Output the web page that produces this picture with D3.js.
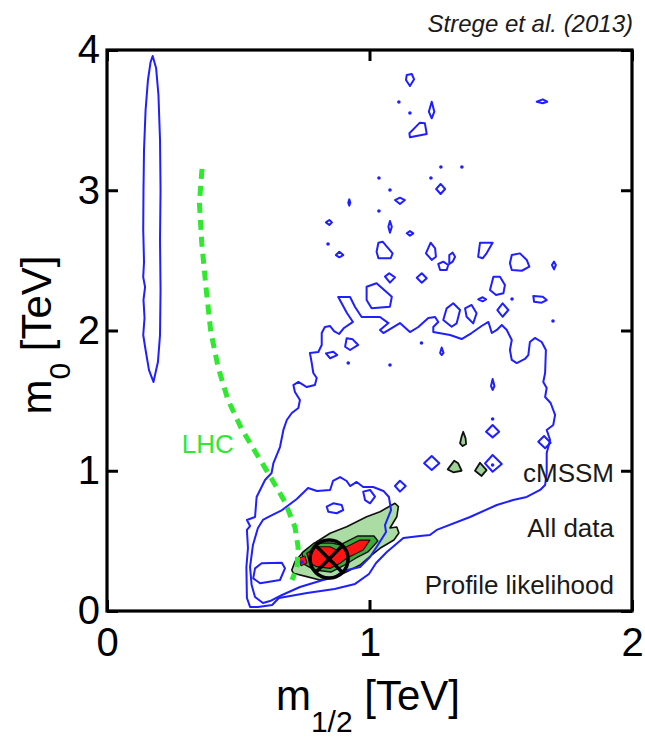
<!DOCTYPE html>
<html>
<head>
<meta charset="utf-8">
<script src="https://cdn.jsdelivr.net/npm/d3@7"></script>
<style>
  html, body { margin: 0; padding: 0; background: #fff; }
  svg { display: block; font-family: "Liberation Sans", Arial, Helvetica, sans-serif; }
</style>
</head>
<body>
<svg id="chart" width="645" height="737"></svg>
<script>
// ---- axis ticks (TeV) ----
const xTicks = [0, 1, 2];
const yTicks = [0, 1, 2, 3, 4];

// ---- contours in (m1/2, m0) [TeV] ----
// narrow blue island at low m1/2
const ellipseContour = [[0.174,3.957],[0.187,3.872],[0.196,3.679],[0.202,3.358],[0.204,3.002],[0.202,2.645],[0.204,2.289],[0.202,1.968],[0.194,1.775],[0.177,1.633],[0.160,1.718],[0.147,1.861],[0.138,1.968],[0.143,2.089],[0.139,2.218],[0.145,2.310],[0.138,2.381],[0.141,2.488],[0.138,2.716],[0.139,3.002],[0.141,3.287],[0.147,3.572],[0.156,3.786],[0.166,3.914]];

// large outer blue contour
const outerContour = [[0.545,0.029],[0.533,0.093],[0.531,0.314],[0.537,0.449],[0.533,0.578],[0.545,0.606],[0.533,0.649],[0.564,0.670],[0.570,0.813],[0.602,0.934],[0.627,0.984],[0.634,1.055],[0.659,1.169],[0.672,1.291],[0.685,1.362],[0.704,1.412],[0.729,1.447],[0.735,1.504],[0.716,1.561],[0.710,1.611],[0.729,1.633],[0.761,1.597],[0.792,1.611],[0.799,1.661],[0.786,1.697],[0.780,1.768],[0.773,1.840],[0.805,1.847],[0.818,1.897],[0.818,1.982],[0.830,2.025],[0.850,2.032],[0.865,1.996],[0.884,1.975],[0.903,2.018],[0.937,2.061],[0.914,2.125],[0.881,2.239],[0.926,2.239],[0.945,2.168],[0.970,2.096],[1.040,2.096],[1.072,2.053],[1.040,2.004],[1.053,1.982],[1.116,2.053],[1.154,1.989],[1.186,2.025],[1.224,2.089],[1.250,2.096],[1.262,2.061],[1.243,2.025],[1.243,1.989],[1.307,1.968],[1.351,1.939],[1.389,1.982],[1.427,2.032],[1.453,2.061],[1.466,1.982],[1.485,2.004],[1.504,2.039],[1.523,2.004],[1.542,1.932],[1.535,1.861],[1.542,1.790],[1.561,1.768],[1.592,1.797],[1.605,1.825],[1.611,1.918],[1.630,1.947],[1.656,1.918],[1.672,1.861],[1.669,1.697],[1.662,1.633],[1.675,1.590],[1.669,1.526],[1.690,1.483],[1.707,1.398],[1.700,1.326],[1.675,1.291],[1.688,1.219],[1.681,1.169],[1.675,1.127],[1.675,0.984],[1.669,0.898],[1.650,0.863],[1.599,0.813],[1.547,0.791],[1.485,0.756],[1.383,0.670],[1.256,0.578],[1.230,0.542],[1.192,0.535],[1.129,0.520],[1.066,0.421],[1.025,0.342],[0.998,0.264],[0.945,0.193],[0.867,0.157],[0.762,0.128],[0.655,0.093],[0.629,0.043],[0.575,0.029]];

// inner blue contour around the best-fit region
const innerContour = [[0.594,0.057],[0.564,0.100],[0.551,0.185],[0.545,0.314],[0.556,0.471],[0.575,0.592],[0.594,0.649],[0.621,0.677],[0.667,0.720],[0.723,0.799],[0.766,0.877],[0.800,0.856],[0.850,0.863],[0.861,0.927],[0.888,0.955],[0.913,0.927],[0.926,0.891],[0.951,0.920],[0.976,0.884],[1.014,0.884],[1.053,0.856],[1.074,0.813],[1.082,0.720],[1.059,0.613],[1.063,0.563],[1.032,0.471],[1.002,0.385],[0.964,0.314],[0.899,0.285],[0.869,0.242],[0.823,0.221],[0.735,0.171],[0.667,0.114],[0.621,0.071]];

// small closed blue islands
const blueIslands = [
  [[1.142,3.822],[1.161,3.829],[1.170,3.791],[1.154,3.743],[1.139,3.786]],
  [[1.237,3.631],[1.247,3.560],[1.237,3.513],[1.226,3.560]],
  [[1.192,3.482],[1.211,3.477],[1.218,3.401],[1.154,3.378],[1.152,3.406]],
  [[1.637,3.631],[1.660,3.648],[1.677,3.631],[1.660,3.620]],
  [[1.271,3.045],[1.288,3.009],[1.271,2.973],[1.254,3.009]],
  [[1.097,2.930],[1.116,2.947],[1.135,2.930],[1.116,2.902]],
  [[0.923,2.935],[0.927,2.911],[0.923,2.890],[0.919,2.911]],
  [[0.834,2.771],[0.847,2.788],[0.857,2.771],[0.847,2.752]],
  [[1.078,2.781],[1.085,2.740],[1.078,2.697],[1.072,2.740]],
  [[1.142,2.693],[1.154,2.709],[1.167,2.693],[1.154,2.676]],
  [[0.872,2.538],[0.885,2.562],[0.900,2.538],[0.885,2.522]],
  [[1.034,2.626],[1.050,2.633],[1.088,2.550],[1.081,2.515],[1.034,2.515],[1.027,2.562]],
  [[1.233,2.626],[1.250,2.586],[1.253,2.526],[1.237,2.503],[1.215,2.550]],
  [[1.262,2.474],[1.281,2.491],[1.300,2.467],[1.294,2.431],[1.269,2.431]],
  [[1.304,2.538],[1.317,2.555],[1.326,2.526],[1.317,2.491],[1.304,2.474]],
  [[1.421,2.626],[1.469,2.626],[1.446,2.550],[1.431,2.515],[1.414,2.526]],
  [[1.542,2.538],[1.573,2.550],[1.599,2.503],[1.609,2.455],[1.580,2.426],[1.542,2.431],[1.535,2.479]],
  [[1.703,2.491],[1.710,2.467],[1.703,2.436],[1.695,2.467]],
  [[1.059,2.384],[1.075,2.408],[1.097,2.379],[1.078,2.341]],
  [[1.180,2.376],[1.199,2.408],[1.218,2.372],[1.199,2.341]],
  [[0.989,2.312],[1.027,2.337],[1.085,2.241],[1.078,2.170],[1.008,2.158],[0.989,2.217]],
  [[1.472,2.384],[1.497,2.384],[1.516,2.324],[1.510,2.265],[1.482,2.253],[1.459,2.289]],
  [[1.414,2.222],[1.431,2.237],[1.444,2.222],[1.431,2.208]],
  [[1.624,2.246],[1.660,2.241],[1.675,2.217],[1.656,2.198],[1.627,2.205]],
  [[1.294,2.158],[1.319,2.194],[1.345,2.146],[1.332,2.051],[1.313,2.027],[1.281,2.075]],
  [[1.364,2.158],[1.389,2.182],[1.408,2.123],[1.395,2.051],[1.370,2.098]],
  [[1.507,2.194],[1.529,2.146],[1.507,2.098],[1.487,2.146]],
  [[0.913,1.944],[0.936,1.937],[0.957,1.897],[0.926,1.861],[0.907,1.884]],
  [[0.834,1.837],[0.862,1.849],[0.877,1.825],[0.850,1.802]],
  [[1.275,1.879],[1.282,1.840],[1.275,1.825],[1.269,1.840]],
  [[1.469,1.654],[1.476,1.604],[1.469,1.576],[1.463,1.604]],
  [[1.469,1.326],[1.494,1.278],[1.469,1.238],[1.444,1.278]],
  [[1.469,1.112],[1.504,1.048],[1.469,0.993],[1.440,1.053]],
  [[1.237,1.105],[1.266,1.053],[1.237,1.005],[1.208,1.053]],
  [[1.665,1.248],[1.690,1.200],[1.669,1.160],[1.643,1.207]],
  [[1.116,0.929],[1.138,0.891],[1.116,0.851],[1.097,0.891]],
  [[0.976,0.851],[1.002,0.863],[1.021,0.815],[1.002,0.768],[0.983,0.791]],
  [[0.837,0.744],[0.862,0.768],[0.894,0.756],[0.900,0.720],[0.875,0.697],[0.843,0.708]],
  [[0.564,0.304],[0.589,0.340],[0.666,0.344],[0.678,0.304],[0.659,0.221],[0.583,0.198],[0.557,0.233]]
];

// single-point blue specks
const blueDots = [[1.112,3.629],[1.154,3.551],[1.272,3.166],[1.352,3.166],[1.036,3.087],[1.234,3.087],[1.078,3.002],[1.036,2.852],[0.842,2.617],[1.699,2.068],[1.198,1.911],[0.919,1.768],[1.078,1.754],[1.469,1.369],[1.469,1.041],[1.543,2.225],[0.743,0.349]];

// profile likelihood regions
const greenRegion = [[0.704,0.292],[0.716,0.352],[0.748,0.423],[0.799,0.494],[0.850,0.554],[0.913,0.601],[0.989,0.672],[1.040,0.708],[1.097,0.768],[1.110,0.744],[1.104,0.672],[1.078,0.592],[1.104,0.599],[1.112,0.556],[1.093,0.506],[1.040,0.447],[1.008,0.399],[0.964,0.328],[0.913,0.280],[0.875,0.245],[0.811,0.221],[0.761,0.245],[0.710,0.269]];
const darkGreenRegion = [[0.743,0.414],[0.789,0.485],[0.857,0.485],[0.888,0.471],[0.956,0.535],[1.017,0.535],[1.032,0.499],[0.994,0.421],[0.949,0.378],[0.899,0.321],[0.853,0.278],[0.792,0.292],[0.750,0.335]];
const redRegion = [[0.761,0.411],[0.799,0.458],[0.850,0.458],[0.875,0.435],[0.913,0.458],[0.964,0.506],[1.002,0.506],[0.976,0.435],[0.938,0.399],[0.913,0.376],[0.888,0.340],[0.850,0.304],[0.799,0.316],[0.773,0.340]];
const redSpot = [[0.731,0.378],[0.754,0.392],[0.762,0.342],[0.739,0.321]];
const greenIslands = [
  [[1.357,1.278],[1.366,1.231],[1.368,1.191],[1.355,1.176],[1.345,1.196],[1.350,1.238]],
  [[1.323,1.072],[1.338,1.053],[1.351,1.000],[1.319,0.989],[1.298,1.010]],
  [[1.421,1.057],[1.446,1.005],[1.427,0.963],[1.402,1.000]]
];

// LHC exclusion limit
const lhcLimit = [[0.362,3.152],[0.352,2.909],[0.361,2.624],[0.377,2.310],[0.395,1.997],[0.423,1.740],[0.461,1.504],[0.513,1.298],[0.570,1.120],[0.632,0.927],[0.678,0.777],[0.716,0.599],[0.728,0.456],[0.724,0.314],[0.705,0.221]];

// best-fit point
const bestFit = [0.846, 0.371];

// annotations
const titleText = "Strege et al. (2013)";
const infoLabels = ["cMSSM", "All data", "Profile likelihood"];
const infoLabelY = [0.92, 0.53, 0.12];   // label baselines, TeV on the m0 axis
const lhcLabel = { text: "LHC", x: 0.285, y: 1.125 };

// ---- layout ----
const svg = d3.select("#chart");
const x = d3.scaleLinear().domain([0, 2]).range([107, 632]);
const y = d3.scaleLinear().domain([0, 4]).range([611, 50]);

const BLUE = "#1f1fff";
const poly = d3.line().x(d => x(d[0])).y(d => y(d[1])).curve(d3.curveLinearClosed);
const open = d3.line().x(d => x(d[0])).y(d => y(d[1]));

const plot = svg.append("g");

// filled likelihood regions
plot.append("path").attr("d", poly(greenRegion))
  .attr("fill", "#abdca3").attr("stroke", "#111").attr("stroke-width", 1.6).attr("stroke-linejoin", "round");
plot.append("path").attr("d", poly(darkGreenRegion))
  .attr("fill", "#3cab3c").attr("stroke", "#111").attr("stroke-width", 1.4).attr("stroke-linejoin", "round");
plot.append("path").attr("d", poly(redRegion))
  .attr("fill", "#ff1414").attr("stroke", "#111").attr("stroke-width", 1.2).attr("stroke-linejoin", "round");
plot.append("path").attr("d", poly(redSpot))
  .attr("fill", "#ff1414").attr("stroke", "#111").attr("stroke-width", 1);
plot.selectAll(".gisl").data(greenIslands).join("path")
  .attr("d", poly)
  .attr("fill", "#9fd396").attr("stroke", "#111").attr("stroke-width", 1.8).attr("stroke-linejoin", "round");

// blue contour lines
[ellipseContour, outerContour, innerContour].forEach(c => {
  plot.append("path").attr("d", poly(c))
    .attr("fill", "none").attr("stroke", BLUE).attr("stroke-width", 2).attr("stroke-linejoin", "round");
});
plot.selectAll(".bisl").data(blueIslands).join("path")
  .attr("d", poly)
  .attr("fill", "none").attr("stroke", BLUE).attr("stroke-width", 2).attr("stroke-linejoin", "round");
plot.selectAll(".bdot").data(blueDots).join("circle")
  .attr("cx", d => x(d[0])).attr("cy", d => y(d[1])).attr("r", 1.8)
  .attr("fill", BLUE);

// LHC limit
plot.append("path").attr("d", open(lhcLimit))
  .attr("fill", "none").attr("stroke", "#2fe82f").attr("stroke-width", 5)
  .attr("stroke-dasharray", "10,7");
plot.append("text").attr("x", x(lhcLabel.x)).attr("y", y(lhcLabel.y))
  .attr("fill", "#2fe82f").attr("font-size", 26).text(lhcLabel.text);

// best-fit marker (circle with cross)
const bx = x(bestFit[0]), by = y(bestFit[1]), br = 19, bd = br * Math.SQRT1_2;
const marker = plot.append("g").attr("stroke", "#000").attr("stroke-width", 3.5).attr("fill", "none");
marker.append("circle").attr("cx", bx).attr("cy", by).attr("r", br);
marker.append("line").attr("x1", bx - bd).attr("y1", by - bd).attr("x2", bx + bd).attr("y2", by + bd);
marker.append("line").attr("x1", bx - bd).attr("y1", by + bd).attr("x2", bx + bd).attr("y2", by - bd);

// annotation labels
svg.selectAll(".info").data(infoLabels).join("text")
  .attr("x", 614).attr("y", (d, i) => y(infoLabelY[i]))
  .attr("text-anchor", "end").attr("font-size", 26).attr("fill", "#1a1a1a")
  .text(d => d);

// axes with inward ticks on all four sides
const styleAxis = g => {
  g.select(".domain").remove();
  g.selectAll(".tick line").attr("stroke", "#000").attr("stroke-width", 3);
  g.selectAll(".tick text").attr("font-size", 40).attr("fill", "#000")
    .attr("font-family", "\"Liberation Sans\", Arial, Helvetica, sans-serif");
};
svg.append("g").attr("transform", `translate(0,${y(0)})`)
  .call(d3.axisBottom(x).tickValues(xTicks).tickFormat(d3.format("d")).tickSizeInner(-11).tickSizeOuter(0).tickPadding(17))
  .call(styleAxis);
svg.append("g").attr("transform", `translate(${x(0)},0)`)
  .call(d3.axisLeft(y).tickValues(yTicks).tickFormat(d3.format("d")).tickSizeInner(-11).tickSizeOuter(0).tickPadding(7))
  .call(styleAxis);
svg.append("g").attr("transform", `translate(0,${y(4)})`)
  .call(d3.axisTop(x).tickValues(xTicks).tickFormat("").tickSizeInner(-11).tickSizeOuter(0))
  .call(styleAxis);
svg.append("g").attr("transform", `translate(${x(2)},0)`)
  .call(d3.axisRight(y).tickValues(yTicks).tickFormat("").tickSizeInner(-11).tickSizeOuter(0))
  .call(styleAxis);

// frame
svg.append("rect")
  .attr("x", x(0)).attr("y", y(4)).attr("width", x(2) - x(0)).attr("height", y(0) - y(4))
  .attr("fill", "none").attr("stroke", "#000").attr("stroke-width", 3.2);

// axis titles
const xt = svg.append("text").attr("x", 368).attr("y", 710).attr("text-anchor", "middle")
  .attr("font-size", 42).attr("fill", "#000");
xt.append("tspan").text("m");
xt.append("tspan").attr("font-size", 30).attr("dy", 22).text("1/2");
xt.append("tspan").attr("dy", -22).text(" [TeV]");

const yt = svg.append("text").attr("transform", "translate(51,335) rotate(-90)").attr("text-anchor", "middle")
  .attr("font-size", 42).attr("fill", "#000");
yt.append("tspan").text("m");
yt.append("tspan").attr("font-size", 30).attr("dy", 19).text("0");
yt.append("tspan").attr("dy", -19).text(" [TeV]");

// citation
svg.append("text").attr("x", 633).attr("y", 32).attr("text-anchor", "end")
  .attr("font-size", 24).attr("font-style", "italic").attr("fill", "#1a1a1a")
  .text(titleText);
</script>
</body>
</html>
